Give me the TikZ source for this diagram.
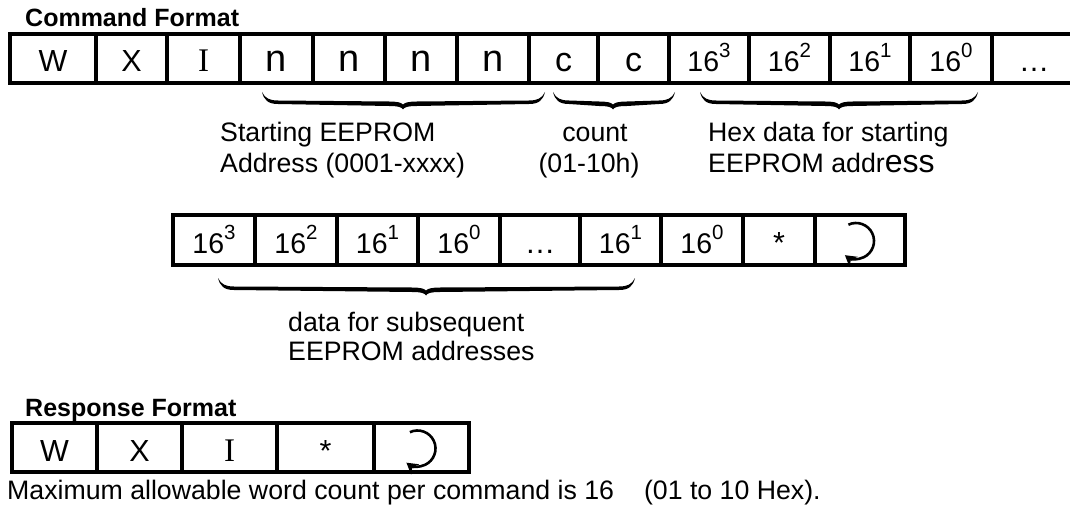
\documentclass[tikz,border=0pt]{standalone}
\usepackage{fontspec}
\setmainfont{Liberation Sans}
\newfontfamily\serifI{Liberation Serif}
\usetikzlibrary{arrows.meta}
\newcommand{\setfs}[1]{\fontsize{#1}{#1}\selectfont}
\newcommand{\hexp}[1]{{\setfs{28.5}16}\raisebox{14pt}{\setfs{20.5}#1}}
\newcommand{\mkcell}[6]{\node[cell, minimum width={#3-#2}, minimum height={#5-#4}] (#1) at ({(#2+#3)/2},{(#4+#5)/2}) {#6};}
% filled curly brace: #1 left x, #2 right x, #3 top y, #4 tip x
\newcommand{\cbrace}[4]{%
\fill[bracefill] ({#1},{#3}) .. controls ({#1+2},{#3+8}) and ({#1+6},{#3+12}) .. ({#1+16},{#3+12})
  -- ({#4-14},{#3+14}) .. controls ({#4-5},{#3+14}) and ({#4-1.5},{#3+15}) .. ({#4},{#3+17.5})
  .. controls ({#4+1.5},{#3+15}) and ({#4+5},{#3+14}) .. ({#4+14},{#3+14})
  -- ({#2-16},{#3+12}) .. controls ({#2-6},{#3+12}) and ({#2-2},{#3+8}) .. ({#2},{#3})
  .. controls ({#2-3},{#3+6.5}) and ({#2-8},{#3+8.5}) .. ({#2-16},{#3+8.5})
  -- ({#4+14},{#3+9.5}) .. controls ({#4+6},{#3+9.5}) and ({#4+2},{#3+10.5}) .. ({#4},{#3+12.5})
  .. controls ({#4-2},{#3+10.5}) and ({#4-6},{#3+9.5}) .. ({#4-14},{#3+9.5})
  -- ({#1+16},{#3+8.5}) .. controls ({#1+8},{#3+8.5}) and ({#1+3},{#3+6.5}) .. ({#1},{#3}) -- cycle;}
\begin{document}
\begin{tikzpicture}[x=1pt,y=-1pt,
  cell/.style={draw, line width=4pt, inner sep=0pt, outer sep=0pt, text height=27pt, text depth=0pt, font=\setfs{30.5}},
  lbl/.style={inner sep=0pt, font=\setfs{26.7}, anchor=base west},
  hdr/.style={inner sep=0pt, font=\bfseries\setfs{25}, anchor=base west},
  bracefill/.style={black},
  ret/.style={line width=2.6pt, -{Stealth[length=11pt,width=13pt]}}]
\useasboundingbox (0,0) rectangle (1070,508);
\fill[white] (0,0) rectangle (1070,508);
% headers
\node[hdr] (cmdh) at (25,27) {Command Format};
\node[hdr] (resh) at (25,416) {Response Format};
% row 1
\mkcell{a1}{10}{96}{34}{83}{W}
\mkcell{a2}{96}{167}{34}{83}{X}
\mkcell{a3}{167}{240}{34}{83}{{\serifI\setfs{33}I}}
\mkcell{a4}{240}{313}{34}{83}{{\setfs{38}n}}
\mkcell{a5}{313}{385}{34}{83}{{\setfs{38}n}}
\mkcell{a6}{385}{457}{34}{83}{{\setfs{38}n}}
\mkcell{a7}{457}{529}{34}{83}{{\setfs{38}n}}
\mkcell{a8}{529}{598}{34}{83}{{\setfs{34}c}}
\mkcell{a9}{598}{669}{34}{83}{{\setfs{34}c}}
\mkcell{a10}{669}{749}{34}{83}{\hexp{3}}
\mkcell{a11}{749}{830}{34}{83}{\hexp{2}}
\mkcell{a12}{830}{910}{34}{83}{\hexp{1}}
\mkcell{a13}{910}{992}{34}{83}{\hexp{0}}
\mkcell{a14}{992}{1076}{34}{83}{\dots}
% braces row 1
\cbrace{262}{545}{92}{403}
\cbrace{553}{675}{92}{613}
\cbrace{700}{978}{92}{839}
% labels row 1
\node[lbl] (sa1) at (220,141) {Starting EEPROM};
\node[lbl] (sa2) at (220,172) {Address (0001-xxxx)};
\node[lbl, anchor=base] (ct1) at (595,141) {count};
\node[lbl, anchor=base] (ct2) at (589,172) {(01-10h)};
\node[lbl] (hx1) at (708,141) {Hex data for starting};
\node[lbl] (hx2) at (708,172) {EEPROM addr{\setfs{32}ess}};
% row 2
\mkcell{c1}{173}{255}{215}{265}{\hexp{3}}
\mkcell{c2}{255}{337}{215}{265}{\hexp{2}}
\mkcell{c3}{337}{418}{215}{265}{\hexp{1}}
\mkcell{c4}{418}{500}{215}{265}{\hexp{0}}
\mkcell{c5}{500}{580}{215}{265}{\dots}
\mkcell{c6}{580}{661}{215}{265}{\hexp{1}}
\mkcell{c7}{661}{743}{215}{265}{\hexp{0}}
\mkcell{c8}{743}{815}{215}{265}{*}
\mkcell{c9}{815}{905}{215}{265}{}
\draw[ret] ([shift={(-4,1)}]c9.center) ++(-115:18) arc[start angle=-115, end angle=128, radius=18];
% brace row 2
\cbrace{218}{635}{278}{426}
\node[lbl] (ds1) at (288,331) {data for subsequent};
\node[lbl] (ds2) at (288,360) {EEPROM addresses};
% response row
\mkcell{r1}{12}{97}{423}{472}{W}
\mkcell{r2}{97}{182}{423}{472}{X}
\mkcell{r3}{182}{277}{423}{472}{{\serifI\setfs{33}I}}
\mkcell{r4}{277}{374}{423}{472}{*}
\mkcell{r5}{374}{469}{423}{472}{}
\draw[ret] ([shift={(-4,1)}]r5.center) ++(-115:18) arc[start angle=-115, end angle=128, radius=18];
% note
\node[lbl] (note) at (7,499) {Maximum allowable word count per command is 16\hspace{30pt}(01 to 10 Hex).};
\end{tikzpicture}
\end{document}
